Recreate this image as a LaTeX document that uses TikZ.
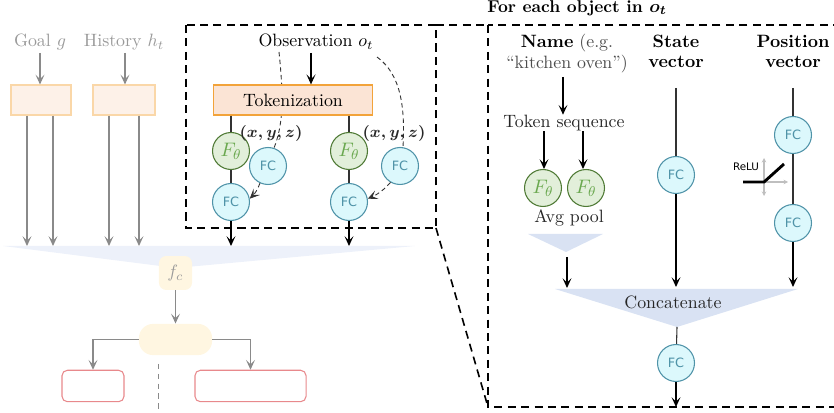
\documentclass[tikz,border=0pt]{standalone}
\usepackage{fontspec}
\usetikzlibrary{arrows.meta,shapes.geometric}
\newfontfamily\dejavu{DejaVu Sans}
\definecolor{goalfill}{HTML}{FDF1E8}
\definecolor{goaldraw}{HTML}{FAD7A8}
\definecolor{tokfill}{HTML}{FBE4D5}
\definecolor{tokdraw}{HTML}{F2A33A}
\definecolor{gfill}{HTML}{E2EFDA}
\definecolor{gdraw}{HTML}{4F7A35}
\definecolor{gtext}{HTML}{6AA84F}
\definecolor{cfill}{HTML}{DCF8FC}
\definecolor{cdraw}{HTML}{4F93A8}
\definecolor{blue1}{HTML}{D9E2F3}
\definecolor{blue2}{HTML}{EDF1FA}
\definecolor{yel}{HTML}{FFF6E1}
\definecolor{redd}{HTML}{E8898C}
\definecolor{gtxt}{HTML}{9A9A9A}
\definecolor{garr}{HTML}{8A8A8A}
\tikzset{
  arr/.style={-{Stealth[length=5.5pt,width=5pt,inset=2.5pt]}},
  garrow/.style={arr,draw=garr,line width=0.6pt},
  barrow/.style={arr,draw=black,line width=0.6pt},
  bline/.style={draw=black!80,line width=0.6pt},
  boxdash/.style={draw=black,line width=0.9pt,dash pattern=on 4.5pt off 3pt},
  thindash/.style={draw=black!80,line width=0.5pt,dash pattern=on 2.5pt off 1.8pt},
  fcnode/.style={circle,draw=cdraw,fill=cfill,line width=0.6pt,minimum size=20.7pt,inner sep=0pt,text=cdraw,font=\dejavu\fontsize{7.2}{8}\selectfont},
  fnode/.style={circle,draw=gdraw,fill=gfill,line width=0.6pt,minimum size=20.7pt,inner sep=0pt,text=gtext,font=\fontsize{11}{12}\selectfont},
  fadebox/.style={draw=goaldraw,fill=goalfill,line width=0.6pt,inner sep=0pt},
  redbox/.style={draw=redd,fill=white,rounded corners=3pt,line width=0.6pt,inner sep=0pt},
  lbl/.style={inner sep=0pt,font=\fontsize{10}{12}\selectfont},
  bold/.style={inner sep=0pt,font=\fontsize{10}{12}\selectfont\bfseries\boldmath},
  xyz/.style={inner sep=0pt,font=\fontsize{9.5}{11}\selectfont\boldmath,text=black!85},
}
\begin{document}
\begin{tikzpicture}[x=0.56pt,y=-0.56pt]
\useasboundingbox (0,0) rectangle (834,413);

% ---------- left funnel ----------
\fill[blue2] (3,246) -- (415,246) -- (176,268) -- cycle;

% ---------- goal / history ----------
\node[lbl,text=gtxt] (goal) at (40,42) {Goal $g$};
\node[lbl,text=gtxt] (hist) at (124,42) {History $h_t$};
\node[fadebox,minimum width=33.6pt,minimum height=16.8pt] (gbox) at (41,100) {};
\node[fadebox,minimum width=34.7pt,minimum height=16.8pt] (hbox) at (124,100) {};
\draw[garrow] (40,53) -- (gbox.north -| 40,0);
\draw[garrow] (125,53) -- (hbox.north -| 125,0);
\coordinate (g1) at (27,246); \coordinate (g2) at (53,246);
\coordinate (h1) at (109,246); \coordinate (h2) at (139,246);
\draw[garrow] (gbox.south -| g1) -- (g1);
\draw[garrow] (gbox.south -| g2) -- (g2);
\draw[garrow] (hbox.south -| h1) -- (h1);
\draw[garrow] (hbox.south -| h2) -- (h2);

% ---------- observation block ----------
\node[lbl] (obs) at (316,42) {Observation $o_t$};
% dashed paths behind
\draw[thindash] (279,52) .. controls (284,100) and (283,125) .. (274,148);
\draw[thindash] (377,57) .. controls (402,75) and (405,110) .. (403,147);
\node[draw=tokdraw,fill=tokfill,line width=0.7pt,minimum width=89pt,minimum height=16.8pt,inner sep=0pt,font=\fontsize{10}{12}\selectfont] (tok) at (293,100) {Tokenization};
\draw[barrow] (311,53) -- (tok.north -| 311,0);

\node[fnode] (fa) at (231,151) {$F_\theta$};
\node[fcnode] (ca) at (231,202) {FC};
\node[fcnode] (sa) at (268,166) {FC};
\node[fnode] (fb) at (349,151) {$F_\theta$};
\node[fcnode] (cb) at (349,202) {FC};
\node[fcnode] (sb) at (400,166) {FC};
\node[xyz] (xyza) at (271,133) {$(x,y,z)$};
\node[xyz] (xyzb) at (394,133) {$(x,y,z)$};

\draw[bline] (tok.south -| fa) -- (fa);
\draw[bline] (fa) -- (ca);
\draw[bline] (tok.south -| fb) -- (fb);
\draw[bline] (fb) -- (cb);
\coordinate (oa) at (231,246); \coordinate (ob) at (349,246);
\draw[barrow] (ca) -- (oa);
\draw[barrow] (cb) -- (ob);
\draw[thindash,arr] (sa.-115) to[bend left=12] (ca.10);
\draw[thindash,arr] (sb.-120) to[bend left=12] (cb.10);

% ---------- f_c and heads ----------
\node[fill=yel,rounded corners=4pt,minimum width=18.5pt,minimum height=19pt,inner sep=0pt,text=gtxt,font=\fontsize{10}{12}\selectfont] (fc) at (175.5,273) {$f_c$};
\node[fill=yel,rounded corners=8pt,minimum width=41pt,minimum height=17.5pt,inner sep=0pt] (pill) at (175.5,339.5) {};
\draw[garrow] (fc) -- (pill);
\node[redbox,minimum width=34.7pt,minimum height=17.6pt] (ra) at (93,386) {};
\node[redbox,minimum width=62.2pt,minimum height=17.6pt] (rb) at (250.5,386) {};
\draw[garrow] (pill.west) -| (ra.north);
\draw[garrow] (pill.east) -| (rb.north);
\coordinate (dv1) at (158,364); \coordinate (dv2) at (158,413);
\draw[draw=garr,line width=0.5pt,dash pattern=on 3pt off 2.5pt] (dv1) -- (dv2);

% ---------- dashed boxes ----------
\coordinate (s1) at (186,25); \coordinate (s2) at (436,228);
\coordinate (b1) at (488,25); \coordinate (b2) at (845,407);
\draw[boxdash] (s1) rectangle (s2);
\draw[boxdash] (b1) rectangle (b2);
\draw[boxdash] (s2 |- s1) -- (b1);
\draw[boxdash] (s2) -- (b1 |- b2);

% ---------- right detail ----------
\node[bold,font=\fontsize{9.6}{11}\selectfont\bfseries\boldmath] (title) at (577,8) {For each object in $o_t$};

\node[lbl,anchor=base] (name1) at (567,48) {\textbf{Name} \textcolor{black!70}{(e.g.}};
\node[lbl,anchor=base,text=black!70] (name2) at (567,69) {``kitchen oven'')};
\node[lbl,text=black!85] (tseq) at (564,123) {Token sequence};
\draw[barrow] (563,77) -- (tseq.north -| 563,0);
\node[fnode] (n1) at (543,188) {$F_\theta$};
\node[fnode] (n2) at (586,188) {$F_\theta$};
\draw[barrow] (tseq.south -| 544,0) -- (n1.north -| 544,0);
\draw[barrow] (tseq.south -| 583,0) -- (n2.north -| 583,0);
\node[lbl,text=black!85] (avg) at (569,218) {Avg pool};
\fill[blue1] (528,234) -- (603,234) -- (566,252) -- cycle;
\coordinate (avgo) at (566,252);
\coordinate (ct1) at (567,288);
\draw[barrow] (567,257) -- (ct1);

\fill[blue1] (555,289) -- (798,289) -- (677,327) -- cycle;
\node[lbl,text=black!85] (cat) at (673,302) {Concatenate};

\node[bold,anchor=base] (st1) at (676,48) {State};
\node[bold,anchor=base] (st2) at (676,68) {vector};
\node[fcnode] (sfc) at (676,175) {FC};
\coordinate (stop) at (676,88);
\coordinate (ct2) at (676,287);
\draw[bline] (stop) -- (sfc);
\draw[barrow] (sfc) -- (ct2);

\node[bold,anchor=base] (p1) at (793,48) {Position};
\node[bold,anchor=base] (p2) at (793,68) {vector};
\node[fcnode] (pfc1) at (793,135) {FC};
\node[fcnode] (pfc2) at (793,223) {FC};
\coordinate (ptop) at (793,88);
\coordinate (ct3) at (793,287);
\draw[bline] (ptop) -- (pfc1);
\draw[bline] (pfc1) -- (pfc2);
\draw[barrow] (pfc2) -- (ct3);

% ReLU icon
\draw[black!25,line width=0.6pt,-{Stealth[length=2.5pt,width=2.5pt]}] (764,182) -- (788,182);
\draw[black!25,line width=0.6pt,{Stealth[length=2.5pt,width=2.5pt]}-{Stealth[length=2.5pt,width=2.5pt]}] (764,196) -- (764,158);
\draw[black,line width=1.6pt] (743,182) -- (764,182) -- (784,164);
\node[inner sep=0pt,font=\dejavu\fontsize{5.8}{7}\selectfont] (relu) at (746,167) {ReLU};

\coordinate (apex) at (677,327);
\node[fcnode] (ofc) at (676,363) {FC};
\coordinate (oend) at (676,407);
\draw[bline] (apex) -- (ofc);
\draw[barrow] (ofc) -- (oend);
\end{tikzpicture}
\end{document}
